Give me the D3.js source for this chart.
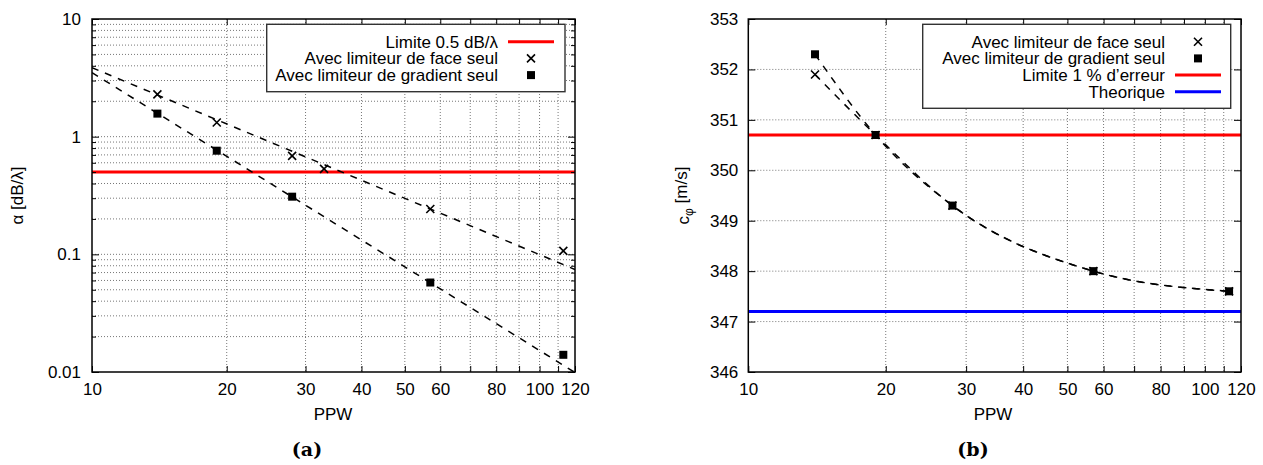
<!DOCTYPE html>
<html>
<head>
<meta charset="utf-8">
<script src="https://cdn.jsdelivr.net/npm/d3@7"></script>
<style>
  body { margin: 0; background: #fff; }
  text { font-family: "Liberation Sans", Arial, Helvetica, sans-serif; fill: #000; }
</style>
</head>
<body>
<div id="chart"></div>
<script>
// ---- panel (a): attenuation vs PPW ----
var facePPW_a   = [14, 19, 28, 33, 57, 113];
var faceAlpha   = [2.29, 1.32, 0.686, 0.532, 0.243, 0.107];
var gradPPW_a   = [14, 19, 28, 57, 113];
var gradAlpha   = [1.57, 0.76, 0.309, 0.0576, 0.0140];
var faceFitPPW  = [10, 120];
var faceFitVal  = [3.86, 0.0744];
var gradFitPPW  = [10, 120];
var gradFitVal  = [3.5, 0.0099];
var limitAlpha  = 0.5;

// ---- panel (b): phase speed vs PPW ----
var ppw_b       = [14, 19, 28, 57, 113];
var faceSpeed   = [351.9, 350.7, 349.3, 348.0, 347.6];
var gradSpeed   = [352.3, 350.7, 349.3, 348.0, 347.6];
var limitSpeed  = 350.7;
var theoSpeed   = 347.2;

// ---- ticks ----
var xLabelTicks = [10, 20, 30, 40, 50, 60, 80, 100, 120];
var xGridTicks  = [20, 30, 40, 50, 60, 70, 80, 90, 100, 110];
var yMajorA     = [0.01, 0.1, 1, 10];
var yMinorA     = [0.02, 0.03, 0.04, 0.05, 0.06, 0.07, 0.08, 0.09,
                   0.2, 0.3, 0.4, 0.5, 0.6, 0.7, 0.8, 0.9,
                   2, 3, 4, 5, 6, 7, 8, 9];
var yTicksB     = [346, 347, 348, 349, 350, 351, 352, 353];

var legendA = ["Limite 0.5 dB/\u03bb", "Avec limiteur de face seul", "Avec limiteur de gradient seul"];
var legendB = ["Avec limiteur de face seul", "Avec limiteur de gradient seul", "Limite 1 % d\u2019erreur", "Theorique"];

var W = 1263, H = 465;
var pTop = 19, pBottom = 372;
var FS = "17px";
var svg = d3.select("#chart").append("svg")
    .attr("width", W)
    .attr("height", H);

var gridStyle = function(sel) {
  sel.attr("stroke", "#777").attr("stroke-width", 1).attr("stroke-dasharray", "1,2");
};

function cross(g, cx, cy) {
  var s = 4;
  g.append("path")
    .attr("d", "M" + (cx - s) + "," + (cy - s) + "L" + (cx + s) + "," + (cy + s) +
               "M" + (cx - s) + "," + (cy + s) + "L" + (cx + s) + "," + (cy - s))
    .attr("stroke", "#000").attr("stroke-width", 1.6).attr("fill", "none");
}
function square(g, cx, cy) {
  g.append("rect").attr("x", cx - 4).attr("y", cy - 4)
    .attr("width", 8).attr("height", 8).attr("fill", "#000");
}

function grid(g, x, y, left, right, yLines, id) {
  g.selectAll(".vg").data(xGridTicks).enter().append("line")
    .attr("x1", function(d) { return x(d); }).attr("x2", function(d) { return x(d); })
    .attr("y1", pTop).attr("y2", pBottom).call(gridStyle);
  var hg = yLines.filter(function(d) {
    return d > y.domain()[0] && d < y.domain()[1];
  });
  g.selectAll(".hg").data(hg).enter().append("line")
    .attr("x1", left).attr("x2", right)
    .attr("y1", function(d) { return y(d); }).attr("y2", function(d) { return y(d); })
    .call(gridStyle);
  g.append("clipPath").attr("id", id)
    .append("rect").attr("x", left).attr("y", pTop)
    .attr("width", right - left).attr("height", pBottom - pTop);
}

function axes(g, x, y, left, right, yMajor, yMinor, yPad) {
  var xt = [10].concat(xGridTicks, [120]);
  g.append("g").attr("transform", "translate(0," + pBottom + ")")
    .call(d3.axisBottom(x).tickValues(xt).tickSizeInner(-6).tickSizeOuter(0).tickPadding(11)
      .tickFormat(function(d) { return xLabelTicks.indexOf(d) >= 0 ? d : ""; }));
  g.append("g").attr("transform", "translate(0," + pTop + ")")
    .call(d3.axisTop(x).tickValues(xt).tickSizeInner(-6).tickSizeOuter(0).tickFormat(""));
  g.append("g").attr("transform", "translate(" + left + ",0)")
    .call(d3.axisLeft(y).tickValues(yMajor).tickSizeInner(-7).tickSizeOuter(0).tickPadding(yPad)
      .tickFormat(function(d) { return String(d); }));
  g.append("g").attr("transform", "translate(" + right + ",0)")
    .call(d3.axisRight(y).tickValues(yMajor).tickSizeInner(-7).tickSizeOuter(0).tickFormat(""));
  if (yMinor.length) {
    g.append("g").attr("transform", "translate(" + left + ",0)")
      .call(d3.axisLeft(y).tickValues(yMinor).tickSizeInner(-4).tickSizeOuter(0).tickFormat(""));
    g.append("g").attr("transform", "translate(" + right + ",0)")
      .call(d3.axisRight(y).tickValues(yMinor).tickSizeInner(-4).tickSizeOuter(0).tickFormat(""));
  }
  g.selectAll(".domain").remove();
  g.selectAll(".tick line").attr("stroke", "#000").attr("stroke-width", 1);
  g.selectAll(".tick text").style("font-size", FS)
    .style("font-family", "'Liberation Sans', Arial, sans-serif");
  g.append("rect").attr("x", left).attr("y", pTop)
    .attr("width", right - left).attr("height", pBottom - pTop)
    .attr("fill", "none").attr("stroke", "#000").attr("stroke-width", 1.5);
}

function legend(g, x0, x1, y0, y1, textX, sampleX0, sampleX1, rows) {
  g.append("rect").attr("x", x0).attr("y", y0).attr("width", x1 - x0).attr("height", y1 - y0)
    .attr("fill", "#fff").attr("stroke", "#333").attr("stroke-width", 1.4);
  rows.forEach(function(r, i) {
    var ry = y0 + 17.4 + i * 16.7;
    g.append("text").attr("x", textX).attr("y", ry).attr("dy", "0.35em")
      .attr("text-anchor", "end").style("font-size", FS).text(r.label);
    var cx = (sampleX0 + sampleX1) / 2;
    if (r.type === "cross") cross(g, cx, ry);
    else if (r.type === "square") square(g, cx, ry);
    else g.append("line").attr("x1", sampleX0).attr("x2", sampleX1).attr("y1", ry).attr("y2", ry)
      .attr("stroke", r.color).attr("stroke-width", 3);
  });
}

// ================= panel (a) =================
var la = 92, ra = 575;
var xa = d3.scaleLog().domain([10, 120]).range([la, ra]);
var ya = d3.scaleLog().domain([0.01, 10]).range([pBottom, pTop]);
var ga = svg.append("g");
grid(ga, xa, ya, la, ra, yMinorA.concat(yMajorA), "clipA");

ga.append("line").attr("x1", la).attr("x2", ra)
  .attr("y1", ya(limitAlpha)).attr("y2", ya(limitAlpha))
  .attr("stroke", "#ff0000").attr("stroke-width", 3);

var fitLine = d3.line().x(function(d) { return xa(d[0]); }).y(function(d) { return ya(d[1]); });
var clipA = ga.append("g").attr("clip-path", "url(#clipA)");
clipA.append("path").datum(d3.zip(faceFitPPW, faceFitVal)).attr("d", fitLine)
  .attr("fill", "none").attr("stroke", "#000").attr("stroke-width", 1.5).attr("stroke-dasharray", "7,7");
clipA.append("path").datum(d3.zip(gradFitPPW, gradFitVal)).attr("d", fitLine)
  .attr("fill", "none").attr("stroke", "#000").attr("stroke-width", 1.5).attr("stroke-dasharray", "7,7");

d3.zip(facePPW_a, faceAlpha).forEach(function(d) { cross(ga, xa(d[0]), ya(d[1])); });
d3.zip(gradPPW_a, gradAlpha).forEach(function(d) { square(ga, xa(d[0]), ya(d[1])); });

axes(ga, xa, ya, la, ra, yMajorA, yMinorA, 11);

legend(ga, 266.7, 565, 24.3, 91.7, 498, 508, 554, [
  { label: legendA[0], type: "line", color: "#ff0000" },
  { label: legendA[1], type: "cross" },
  { label: legendA[2], type: "square" }
]);

ga.append("text").attr("transform", "translate(17," + ((pTop + pBottom) / 2) + ") rotate(-90)")
  .attr("text-anchor", "middle").attr("dy", "0.35em").style("font-size", FS)
  .text("\u03b1 [dB/\u03bb]");
ga.append("text").attr("x", 333).attr("y", 420).attr("text-anchor", "middle")
  .style("font-size", FS).text("PPW");
ga.append("text").attr("x", 307).attr("y", 456).attr("text-anchor", "middle")
  .style("font-family", "'DejaVu Serif', serif").style("font-weight", "bold").style("font-size", "19px")
  .text("(a)");

// ================= panel (b) =================
var lb = 748.3, rb = 1241;
var xb = d3.scaleLog().domain([10, 120]).range([lb, rb]);
var yb = d3.scaleLinear().domain([346, 353]).range([pBottom, pTop]);
var gb = svg.append("g");
grid(gb, xb, yb, lb, rb, yTicksB, "clipB");

gb.append("line").attr("x1", lb).attr("x2", rb)
  .attr("y1", yb(limitSpeed)).attr("y2", yb(limitSpeed))
  .attr("stroke", "#ff0000").attr("stroke-width", 3);
gb.append("line").attr("x1", lb).attr("x2", rb)
  .attr("y1", yb(theoSpeed)).attr("y2", yb(theoSpeed))
  .attr("stroke", "#0000ff").attr("stroke-width", 3);

var curveB = d3.line().x(function(d) { return xb(d[0]); }).y(function(d) { return yb(d[1]); })
  .curve(d3.curveMonotoneX);
gb.append("path").datum(d3.zip(ppw_b, faceSpeed)).attr("d", curveB)
  .attr("fill", "none").attr("stroke", "#000").attr("stroke-width", 1.5).attr("stroke-dasharray", "7,7");
gb.append("path").datum(d3.zip(ppw_b, gradSpeed)).attr("d", curveB)
  .attr("fill", "none").attr("stroke", "#000").attr("stroke-width", 1.5).attr("stroke-dasharray", "7,7");

d3.zip(ppw_b, faceSpeed).forEach(function(d) { cross(gb, xb(d[0]), yb(d[1])); });
d3.zip(ppw_b, gradSpeed).forEach(function(d) { square(gb, xb(d[0]), yb(d[1])); });

axes(gb, xb, yb, lb, rb, yTicksB, [], 10);

legend(gb, 922.7, 1230.7, 24.3, 108.3, 1165, 1175, 1221, [
  { label: legendB[0], type: "cross" },
  { label: legendB[1], type: "square" },
  { label: legendB[2], type: "line", color: "#ff0000" },
  { label: legendB[3], type: "line", color: "#0000ff" }
]);

var yl = gb.append("text").attr("transform", "translate(683," + ((pTop + pBottom) / 2) + ") rotate(-90)")
  .attr("text-anchor", "middle").attr("dy", "0.35em").style("font-size", FS);
yl.append("tspan").text("c");
yl.append("tspan").attr("dy", "0.3em").style("font-size", "12px").text("\u03c6");
yl.append("tspan").attr("dy", "-0.3em").text(" [m/s]");
gb.append("text").attr("x", 993).attr("y", 420).attr("text-anchor", "middle")
  .style("font-size", FS).text("PPW");
gb.append("text").attr("x", 973).attr("y", 456).attr("text-anchor", "middle")
  .style("font-family", "'DejaVu Serif', serif").style("font-weight", "bold").style("font-size", "19px")
  .text("(b)");
</script>
</body>
</html>
